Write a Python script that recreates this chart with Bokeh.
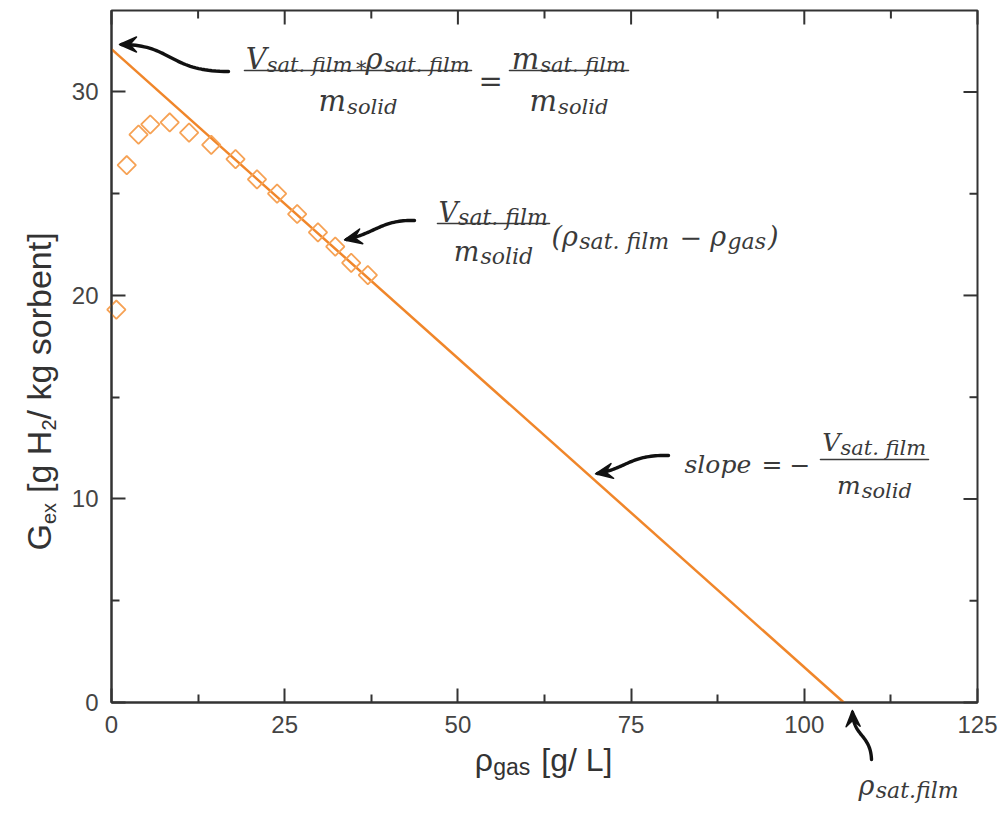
import numpy as np
from bokeh.plotting import figure
from bokeh.models import Label, Range1d, LinearAxis, PolyAnnotation, FixedTicker
from bokeh.embed import file_html
from bokeh.resources import INLINE

# ---------------- data ----------------
rho_gas = [0.7, 2.2, 3.9, 5.6, 8.4, 11.2, 14.4, 17.9, 21.0, 23.9, 26.8, 29.8, 32.3, 34.6, 37.0]
G_ex = [19.3, 26.4, 27.9, 28.4, 28.5, 28.0, 27.4, 26.7, 25.7, 25.0, 24.0, 23.1, 22.4, 21.6, 21.0]
fit_G0 = 32.1          # intercept of the linear fit at rho_gas = 0
rho_sat_film = 105.7   # rho_gas where the fit reaches G_ex = 0
x_ticks = [0, 25, 50, 75, 100, 125]
x_minor = [12.5, 37.5, 62.5, 87.5, 112.5]
y_ticks = [0, 10, 20, 30]
y_minor = [5, 15, 25]

X0, X1, Y0, Y1 = 0, 125, 0, 34
# where the axes box sits in the picture (pixels)
FL, FR, FT, FB = 111, 977, 10, 702
W, H = 998, 806

TXT = "#3a3a3a"
AX = "#333333"
SERIF = "DejaVu Serif"
SANS = "Liberation Sans"


def dx(px):
    return X0 + (px - FL) / (FR - FL) * (X1 - X0)


def dy(py):
    return Y0 + (FB - py) / (FB - FT) * (Y1 - Y0)


# the frame fills the whole canvas, so that texts outside the axes box are drawn too
p = figure(width=W, height=H, x_range=Range1d(dx(0), dx(W)), y_range=Range1d(dy(H), dy(0)),
           output_backend="svg", toolbar_location=None,
           x_axis_location=None, y_axis_location=None, min_border=0)
p.grid.visible = False
p.outline_line_color = None
p.background_fill_color = "white"
p.border_fill_color = "white"

MAJ, MIN = 14, 8


def style_axis(ax):
    ax.axis_line_color = AX
    ax.axis_line_width = 2
    ax.major_tick_line_color = AX
    ax.minor_tick_line_color = AX
    ax.major_tick_line_width = 2
    ax.minor_tick_line_width = 2
    ax.major_tick_in = MAJ
    ax.major_tick_out = 0
    ax.minor_tick_in = MIN
    ax.minor_tick_out = 0
    ax.major_label_text_font = SANS
    ax.major_label_text_font_size = "24px"
    ax.major_label_text_color = "#444444"
    ax.major_label_standoff = 13


ax_b = LinearAxis(ticker=FixedTicker(ticks=x_ticks, minor_ticks=x_minor),
                  fixed_location=Y0, bounds=(X0, X1))
style_axis(ax_b)
p.add_layout(ax_b, "below")
ax_l = LinearAxis(ticker=FixedTicker(ticks=y_ticks, minor_ticks=y_minor),
                  fixed_location=X0, bounds=(Y0, Y1))
style_axis(ax_l)
p.add_layout(ax_l, "left")

# top and right edges of the box, with mirrored inward ticks
p.quad(left=[X0], right=[X1], bottom=[Y0], top=[Y1], fill_color=None, line_color=AX, line_width=2)
sx = (X1 - X0) / (FR - FL)   # data units per pixel
sy = (Y1 - Y0) / (FB - FT)
for ticks, ln in [(x_ticks, MAJ), (x_minor, MIN)]:
    p.segment(x0=ticks, y0=[Y1] * len(ticks), x1=ticks, y1=[Y1 - ln * sy] * len(ticks),
              line_color=AX, line_width=2)
for ticks, ln in [(y_ticks, MAJ), (y_minor, MIN)]:
    p.segment(x0=[X1] * len(ticks), y0=ticks, x1=[X1 - ln * sx] * len(ticks), y1=ticks,
              line_color=AX, line_width=2)

# ---------------- data glyphs ----------------
p.line([0, rho_sat_film], [fit_G0, 0], line_color="#f0862a", line_width=2.5)
p.scatter(rho_gas, G_ex, marker="square", angle=np.pi / 4, size=13,
          fill_color=None, line_color="#f6a255", line_width=1.8)

# ---------------- helpers for annotations ----------------
EM_SERIF = {' ': .318, '.': .318, 'a': .596, 'b': .640, 'c': .560, 'd': .640, 'e': .592,
            'f': .370, 'g': .640, 'i': .320, 'l': .320, 'm': .948, 'o': .602, 'p': .640,
            's': .513, 't': .402, 'V': .722, 'ρ': .640, '=': .838, '−': .838, '(': .390,
            ')': .390, '∗': .500, 'n': .644, 'r': .478}
EM_SANS = {'G': .778, 'e': .556, 'x': .5, ' ': .278, '[': .278, 'g': .556, 'H': .722,
           '2': .556, '/': .278, 'k': .5, 's': .5, 'o': .556, 'r': .333, 'b': .556,
           'n': .556, 't': .278, ']': .278, 'ρ': .58, 'a': .556, 'L': .556}


def tw(s, size, em):
    return sum(em.get(ch, 0.6) for ch in s) * size


def put(txt, px, py, size, font=SERIF, style="italic", color=TXT, angle=0.0):
    p.add_layout(Label(x=dx(px), y=dy(py), text=txt, text_font=font, text_font_style=style,
                       text_font_size=f"{size}px", text_color=color, angle=angle,
                       text_align="left", text_baseline="alphabetic"))


def expr(pieces, px, base, M, S, shift, center=False):
    """pieces: (text, is_subscript) or a number = extra gap in px"""
    def wid(pc):
        if isinstance(pc, (int, float)):
            return pc
        t, s = pc
        return tw(t, S if s else M, EM_SERIF)
    total = sum(wid(pc) for pc in pieces)
    x = px - total / 2 if center else px
    for pc in pieces:
        if not isinstance(pc, (int, float)):
            t, s = pc
            put(t, x, base + (shift if s else 0), S if s else M)
        x += wid(pc)
    return x


def poly(pts, **kw):
    p.add_layout(PolyAnnotation(xs=[dx(a) for a, b in pts], ys=[dy(b) for a, b in pts], **kw))


def stroke(pts, width=3.0, color="#111111"):
    pts = list(pts) + list(pts)[::-1]
    poly(pts, fill_alpha=0, line_color=color, line_alpha=1,
         line_width=width, line_join="round", line_cap="round")


def bar(x0, x1, y, width=1.6):
    stroke([(x0, y), (x1, y)], width=width, color=TXT)


def curved_arrow(p0, p1, p2, p3, L=15, w=7.5):
    t = np.linspace(0, 1, 40)
    P = [np.array(q, float) for q in (p0, p1, p2, p3)]
    pts = [((1 - s) ** 3) * P[0] + 3 * ((1 - s) ** 2) * s * P[1] + 3 * (1 - s) * s * s * P[2] + s ** 3 * P[3]
           for s in t]
    stroke([(q[0], q[1]) for q in pts], width=3.4)
    tip = P[0]
    u = P[1] - P[0]
    u = u / np.hypot(*u)
    v = np.array([-u[1], u[0]])
    head = [tip - 2 * u, tip + L * u + w * v, tip + 0.55 * L * u, tip + L * u - w * v]
    poly([(q[0], q[1]) for q in head], fill_color="#111111", fill_alpha=1,
         line_color="#111111", line_alpha=1, line_width=1.5, line_join="round")


# ---------------- annotation A (top) ----------------
MA, SA, SHA = 29, 21, 6
num1 = [("V", False), ("sat. film", True), 1, ("∗", True), 1, ("ρ", False), ("sat. film", True)]
den = [("m", False), 1, ("solid", True)]
num2 = [("m", False), 1, ("sat. film", True)]
bar(244, 471, 70)
expr(num1, 357.5, 58, MA, SA, SHA, center=True)
expr(den, 357.5, 100, MA, SA, SHA, center=True)
put("=", 478, 80, MA)
bar(509, 628, 70)
expr(num2, 568.5, 58, MA, SA, SHA, center=True)
expr(den, 568.5, 100, MA, SA, SHA, center=True)
curved_arrow((121, 44), (172, 44), (168, 71), (228, 71))

# ---------------- annotation B (middle) ----------------
MB, SB, SHB = 27, 22, 5
numB = [("V", False), ("sat. film", True)]
bar(437, 549, 223)
expr(numB, 493, 212, MB, SB, SHB, center=True)
expr(den, 493, 251, MB, SB, SHB, center=True)
expr([("(", False), ("ρ", False), ("sat. film", True), 10, ("−", False), 8, ("ρ", False),
      ("gas", True), 2, (")", False)], 551, 236, MB, SB, SHB)
curved_arrow((346, 239), (374, 233), (382, 219), (414, 220))

# ---------------- annotation C (slope) ----------------
MC, SC, SHC = 25, 21, 5
put("slope", 684, 464, MC)
put("=", 761, 464, MC)
put("−", 789, 464, MC)
bar(820, 928, 459)
expr(numB, 874, 442, MC, SC, SHC, center=True)
expr(den, 874, 485, MC, SC, SHC, center=True)
curved_arrow((597, 473), (626, 468), (630, 454), (668, 455))

# ---------------- annotation D (rho_sat.film), below the box ----------------
expr([("ρ", False), ("sat.film", True)], 858, 785, 27, 22, 5)
curved_arrow((852, 712), (853, 736), (870, 734), (871, 759), L=14, w=7)

# ---------------- axis titles ----------------
# (gap, text, size, shift) -- leading gaps instead of leading spaces
xt_pieces = [(0, "ρ", 32, 0), (0, "gas", 23, 7), (11, "[g/ L]", 32, 0)]
tot = sum(g + tw(t, s, EM_SANS) for g, t, s, _ in xt_pieces)
x = 612 - tot
for g, t, s, sh in xt_pieces:
    x += g
    put(t, x, 759 + sh, s, font=SANS, style="normal", color="#333333")
    x += tw(t, s, EM_SANS)

yt_pieces = [(0, "G", 34, 0), (0, "ex", 20, 10), (10, "[g H", 34, 0), (0, "2", 20, 10),
             (0, "/ kg sorbent]", 34, 0)]
y = 550
for g, t, s, sh in yt_pieces:
    y -= g
    put(t, 38 + sh, y, s, font=SANS, style="normal", color="#333333", angle=np.pi / 2)
    y -= tw(t, s, EM_SANS)

open("out.html", "w").write(file_html(p, INLINE))
